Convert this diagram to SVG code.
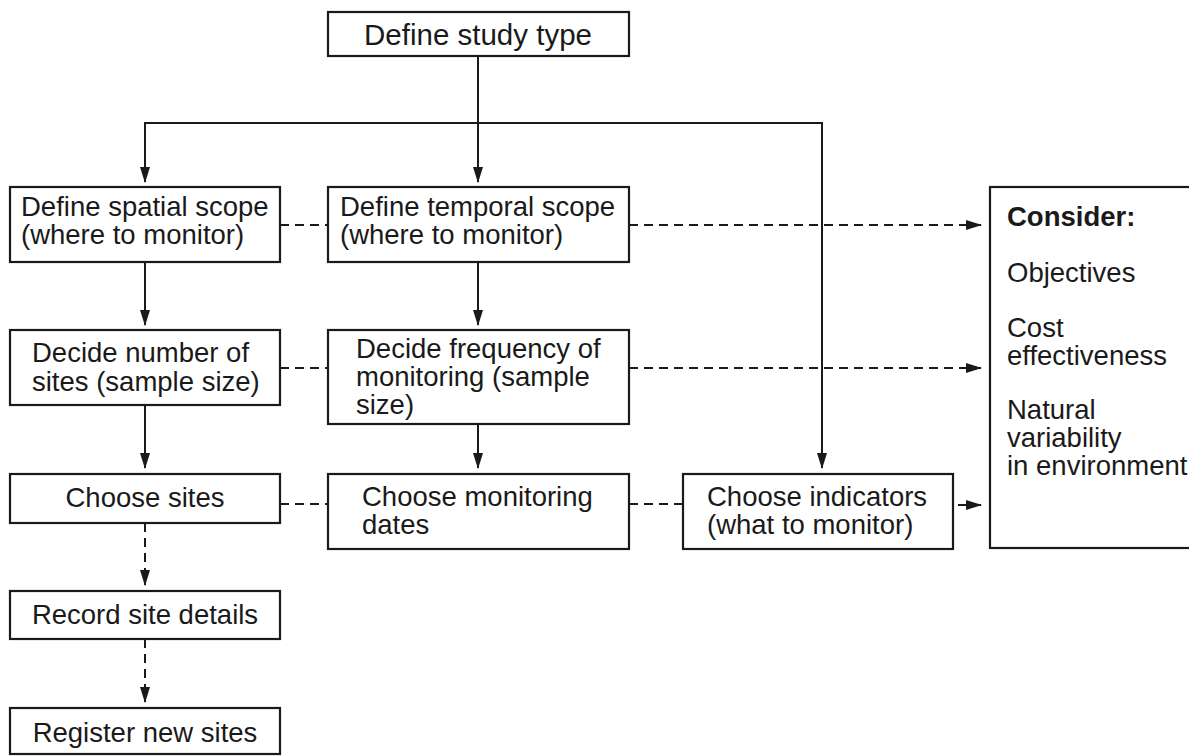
<svg xmlns="http://www.w3.org/2000/svg" width="1189" height="756" viewBox="0 0 1189 756">
<style>
.box{fill:#fff;stroke:#1a1a1a;stroke-width:2.2}
.t{font-family:"Liberation Sans",Arial,sans-serif;font-size:27.5px;fill:#1a1a1a}
.b{font-weight:bold}
.ln{fill:none;stroke:#1a1a1a;stroke-width:2}
.dash{fill:none;stroke:#1a1a1a;stroke-width:2;stroke-dasharray:9 6}
</style>
<defs>
<marker id="ah" markerWidth="16" markerHeight="10" refX="15" refY="5" orient="auto" markerUnits="userSpaceOnUse">
<path d="M0,0 L16,5 L0,10 Z" fill="#1a1a1a"/>
</marker>
</defs>
<rect width="1189" height="756" fill="#fff"/>
<g id="connectors">
<path class="ln" d="M478,56 V182" marker-end="url(#ah)"/>
<path class="ln" d="M145,123 H822 V468" marker-end="url(#ah)"/>
<path class="ln" d="M145,122 V182" marker-end="url(#ah)"/>
<path class="ln" d="M145,262 V325" marker-end="url(#ah)"/>
<path class="ln" d="M478,262 V325" marker-end="url(#ah)"/>
<path class="ln" d="M145,405 V468" marker-end="url(#ah)"/>
<path class="ln" d="M478,424 V468" marker-end="url(#ah)"/>
<path class="dash" d="M145,523 V585" marker-end="url(#ah)"/>
<path class="dash" d="M145,639 V702" marker-end="url(#ah)"/>
<path class="dash" d="M280,225 H328"/>
<path class="dash" d="M280,368 H328"/>
<path class="dash" d="M280,504 H328"/>
<path class="dash" d="M629,504 H683"/>
<path class="dash" d="M629,225 H981" marker-end="url(#ah)"/>
<path class="dash" d="M629,368 H981" marker-end="url(#ah)"/>
<path class="ln" d="M958,505 H981" marker-end="url(#ah)"/>
</g>
<g id="study">
<rect class="box" x="328" y="12" width="301" height="44"/>
<text class="t" x="478" y="45" text-anchor="middle" style="font-size:29.5px">Define study type</text>
</g>
<g id="spatial">
<rect class="box" x="10" y="187" width="270" height="75"/>
<text class="t" x="21" y="216">Define spatial scope</text>
<text class="t" x="21" y="244">(where to monitor)</text>
</g>
<g id="temporal">
<rect class="box" x="328" y="187" width="301" height="75"/>
<text class="t" x="340" y="216">Define temporal scope</text>
<text class="t" x="340" y="244">(where to monitor)</text>
</g>
<g id="number">
<rect class="box" x="10" y="330" width="270" height="75"/>
<text class="t" x="32" y="362">Decide number of</text>
<text class="t" x="32" y="391">sites (sample size)</text>
</g>
<g id="frequency">
<rect class="box" x="328" y="330" width="301" height="94"/>
<text class="t" x="356" y="358">Decide frequency of</text>
<text class="t" x="356" y="386">monitoring (sample</text>
<text class="t" x="356" y="414">size)</text>
</g>
<g id="sites">
<rect class="box" x="10" y="474" width="270" height="49"/>
<text class="t" x="145" y="507" text-anchor="middle">Choose sites</text>
</g>
<g id="dates">
<rect class="box" x="328" y="474" width="301" height="75"/>
<text class="t" x="362" y="506">Choose monitoring</text>
<text class="t" x="362" y="534">dates</text>
</g>
<g id="indicators">
<rect class="box" x="683" y="474" width="270" height="75"/>
<text class="t" x="707" y="506">Choose indicators</text>
<text class="t" x="707" y="534">(what to monitor)</text>
</g>
<g id="record">
<rect class="box" x="10" y="591" width="270" height="48"/>
<text class="t" x="145" y="624" text-anchor="middle">Record site details</text>
</g>
<g id="register">
<rect class="box" x="10" y="708" width="270" height="46"/>
<text class="t" x="145" y="742" text-anchor="middle">Register new sites</text>
</g>
<g id="consider">
<rect class="box" x="990" y="187" width="230" height="361"/>
<text class="t b" x="1007" y="226">Consider:</text>
<text class="t" x="1007" y="282">Objectives</text>
<text class="t" x="1007" y="337">Cost</text>
<text class="t" x="1007" y="365">effectiveness</text>
<text class="t" x="1007" y="419">Natural</text>
<text class="t" x="1007" y="447">variability</text>
<text class="t" x="1007" y="475">in environment</text>
</g>
</svg>
